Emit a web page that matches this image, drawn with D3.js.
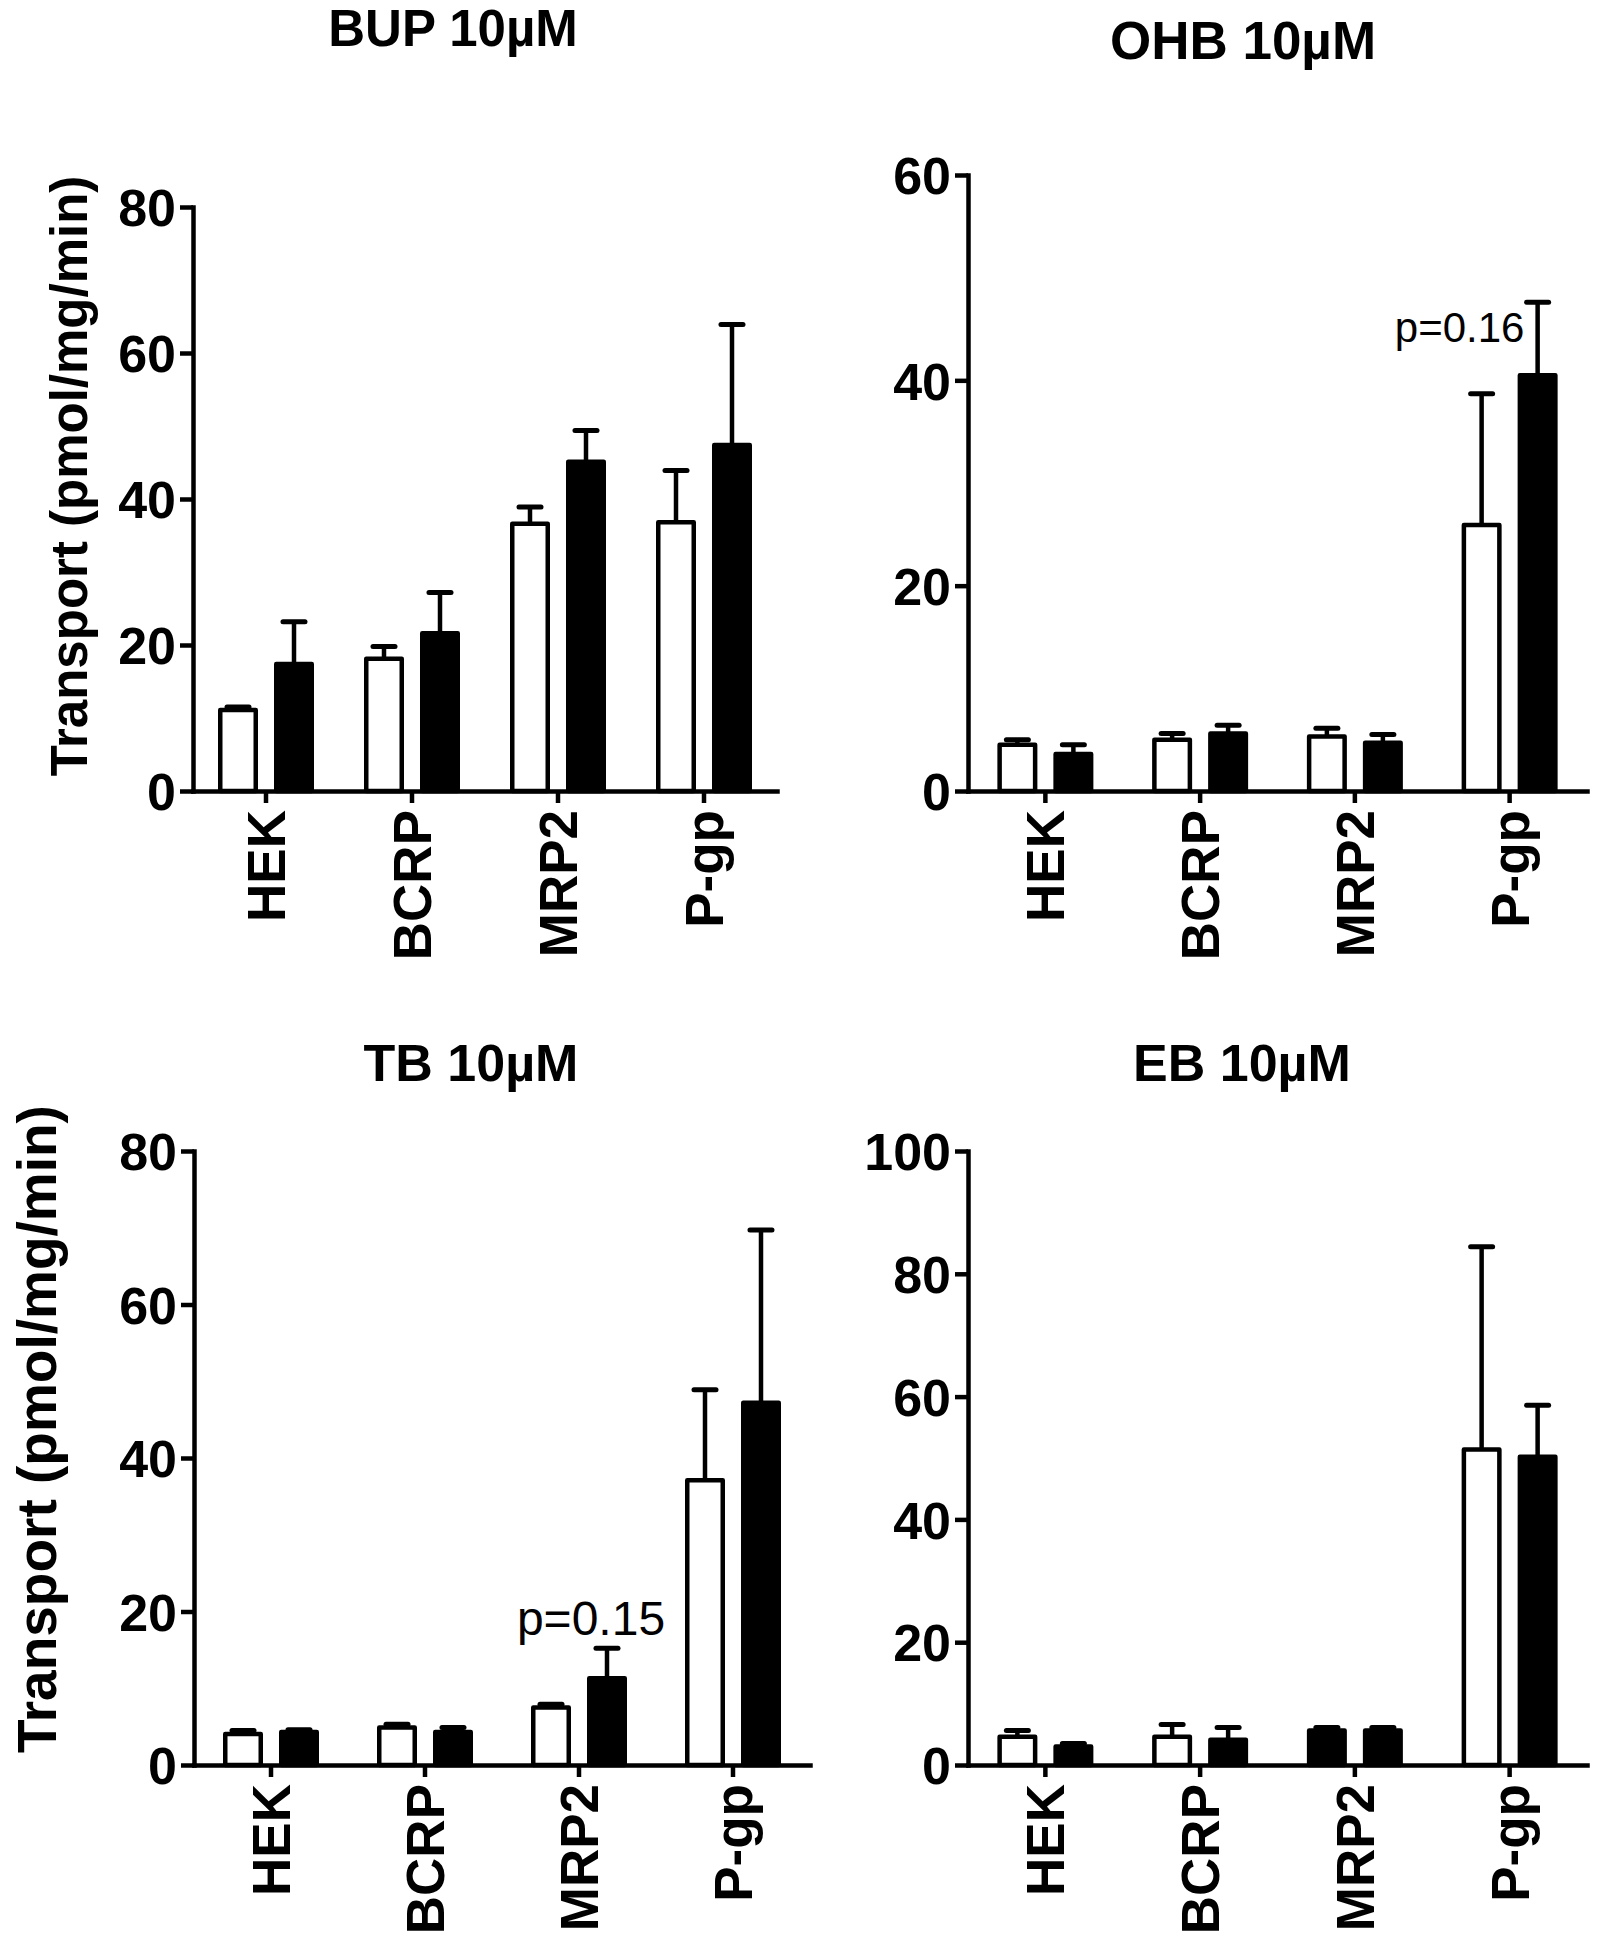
<!DOCTYPE html>
<html>
<head>
<meta charset="utf-8">
<script src="https://cdn.jsdelivr.net/npm/d3@7"></script>
<style>
  html, body { margin: 0; padding: 0; background: #fff; }
  svg { display: block; }
  text { font-family: "Liberation Sans", Arial, Helvetica, sans-serif; fill: #000; }
</style>
</head>
<body>
<script>
// ---------------- data ----------------
const categories = ["HEK", "BCRP", "MRP2", "P-gp"];
const panelTitles = ["BUP 10\u00b5M", "OHB 10\u00b5M", "TB 10\u00b5M", "EB 10\u00b5M"];
const yLabel = "Transport (pmol/mg/min)";

// open bars (control) and filled bars (treated), mean and upper SE
const bupCtrl  = [11.1, 18.1, 36.6, 36.8];
const bupCtrlE = [0.4, 1.7, 2.3, 7.1];
const bupTrt   = [17.4, 21.6, 45.1, 47.4];
const bupTrtE  = [5.8, 5.6, 4.3, 16.5];

const ohbCtrl  = [4.5, 5.0, 5.3, 25.9];
const ohbCtrlE = [0.5, 0.6, 0.8, 12.8];
const ohbTrt   = [3.6, 5.6, 4.7, 40.5];
const ohbTrtE  = [0.9, 0.8, 0.8, 7.1];

const tbCtrl   = [4.05, 4.9, 7.5, 37.1];
const tbCtrlE  = [0.45, 0.4, 0.4, 11.8];
const tbTrt    = [4.3, 4.3, 11.3, 47.2];
const tbTrtE   = [0.3, 0.6, 3.9, 22.5];

const ebCtrl   = [4.6, 4.6, 5.6, 51.4];
const ebCtrlE  = [1.0, 2.0, 0.5, 33.0];
const ebTrt    = [3.0, 4.1, 5.6, 50.2];
const ebTrtE   = [0.5, 2.0, 0.5, 8.4];

const yMax   = [80, 60, 80, 100];
const yTicks = [[0,20,40,60,80], [0,20,40,60], [0,20,40,60,80], [0,20,40,60,80,100]];

const pNotes = ["", "p=0.16", "p=0.15", ""];

// ---------------- layout ----------------
const W = 1597, H = 1950;
const layout = [
  { x0: 193, x1: 777,  yTop: 207,  yBot: 791,  tX: 453,  tY: 46,   tS: 51, lab: {x: 87, y: 476, size: 51},
    note: null },
  { x0: 968, x1: 1587, yTop: 175,  yBot: 791,  tX: 1243, tY: 59,   tS: 53, lab: null,
    note: {cat: "P-gp", dx: -50, v: 43.7, size: 42} },
  { x0: 194, x1: 810,  yTop: 1151, yBot: 1765, tX: 471,  tY: 1081, tS: 52, lab: {x: 56, y: 1429, size: 55},
    note: {cat: "MRP2", dx: 12, v: 16.9, size: 48} },
  { x0: 968, x1: 1587, yTop: 1151, yBot: 1765, tX: 1242, tY: 1081, tS: 52, lab: null,
    note: null }
];
// bars drawn filled even though they are the control series (EB, MRP2)
const filledCtrl = [[], [], [], ["MRP2"]];

const series = [
  [bupCtrl, bupCtrlE, bupTrt, bupTrtE],
  [ohbCtrl, ohbCtrlE, ohbTrt, ohbTrtE],
  [tbCtrl, tbCtrlE, tbTrt, tbTrtE],
  [ebCtrl, ebCtrlE, ebTrt, ebTrtE]
];

const SW = 4.5;        // stroke width
const FONT_TICK = 52;
const FONT_CAT = 53;

const svg = d3.select("body").append("svg").attr("width", W).attr("height", H);

layout.forEach((L, i) => {
  const g = svg.append("g");
  const [ctrl, ctrlE, trt, trtE] = series[i];

  const x = d3.scaleBand().domain(categories).range([L.x0, L.x1]);
  const sub = d3.scaleBand().domain(["ctrl", "trt"]).range([-48, 48]).paddingInner(0.2857);
  const y = d3.scaleLinear().domain([0, yMax[i]]).range([L.yBot, L.yTop]);

  const rows = categories.map((c, k) => ([
    { cat: c, s: "ctrl", v: ctrl[k], e: ctrlE[k], filled: filledCtrl[i].includes(c) },
    { cat: c, s: "trt",  v: trt[k],  e: trtE[k],  filled: true }
  ])).flat();

  // error bars (upper only)
  const capW = 22;
  const eg = g.append("g");
  rows.forEach(d => {
    const cx = x(d.cat) + x.bandwidth() / 2 + sub(d.s) + sub.bandwidth() / 2;
    eg.append("line")
      .attr("x1", cx).attr("x2", cx)
      .attr("y1", y(d.v)).attr("y2", y(d.v + d.e))
      .attr("stroke", "#000").attr("stroke-width", SW);
    eg.append("line")
      .attr("x1", cx - capW / 2).attr("x2", cx + capW / 2)
      .attr("y1", y(d.v + d.e)).attr("y2", y(d.v + d.e))
      .attr("stroke", "#000").attr("stroke-width", SW + 0.5).attr("stroke-linecap", "round");
  });

  // bars
  g.append("g").selectAll("rect").data(rows).join("rect")
    .attr("x", d => x(d.cat) + x.bandwidth() / 2 + sub(d.s) + SW / 2)
    .attr("width", sub.bandwidth() - SW)
    .attr("y", d => y(d.v))
    .attr("height", d => y(0) - y(d.v))
    .attr("fill", d => d.filled ? "#000" : "#fff")
    .attr("stroke", "#000").attr("stroke-width", SW)
    .attr("stroke-linejoin", "round");

  // y axis
  const ya = g.append("g").attr("transform", `translate(${L.x0},0)`)
    .call(d3.axisLeft(y).tickValues(yTicks[i]).tickSize(13).tickSizeOuter(0).tickPadding(4));
  ya.selectAll("path.domain").attr("stroke-width", SW).attr("stroke-linecap", "square");
  ya.selectAll(".tick line").attr("stroke-width", SW);
  ya.selectAll(".tick text")
    .attr("font-size", FONT_TICK).attr("font-weight", "bold")
    .attr("font-family", "Liberation Sans, Arial, sans-serif")
    .attr("dy", "0.36em");

  // x axis
  const xa = g.append("g").attr("transform", `translate(0,${L.yBot})`)
    .call(d3.axisBottom(x).tickSize(12).tickSizeOuter(0));
  xa.selectAll("path.domain").attr("stroke-width", SW).attr("stroke-linecap", "square");
  xa.selectAll(".tick line").attr("stroke-width", SW);
  xa.selectAll(".tick text")
    .attr("font-size", FONT_CAT).attr("font-weight", "bold")
    .attr("font-family", "Liberation Sans, Arial, sans-serif")
    .attr("transform", "rotate(-90)")
    .attr("text-anchor", "end")
    .attr("x", -19).attr("y", 0).attr("dy", "0.36em");

  // title
  g.append("text")
    .attr("x", L.tX).attr("y", L.tY)
    .attr("text-anchor", "middle")
    .attr("font-size", L.tS).attr("font-weight", "bold")
    .text(panelTitles[i]);

  // y label
  if (L.lab) {
    g.append("text")
      .attr("transform", `translate(${L.lab.x},${L.lab.y}) rotate(-90)`)
      .attr("text-anchor", "middle")
      .attr("font-size", L.lab.size).attr("font-weight", "bold")
      .text(yLabel);
  }

  // p-value note
  if (L.note && pNotes[i]) {
    g.append("text")
      .attr("x", x(L.note.cat) + x.bandwidth() / 2 + L.note.dx)
      .attr("y", y(L.note.v))
      .attr("text-anchor", "middle")
      .attr("font-size", L.note.size)
      .text(pNotes[i]);
  }
});
</script>
</body>
</html>
